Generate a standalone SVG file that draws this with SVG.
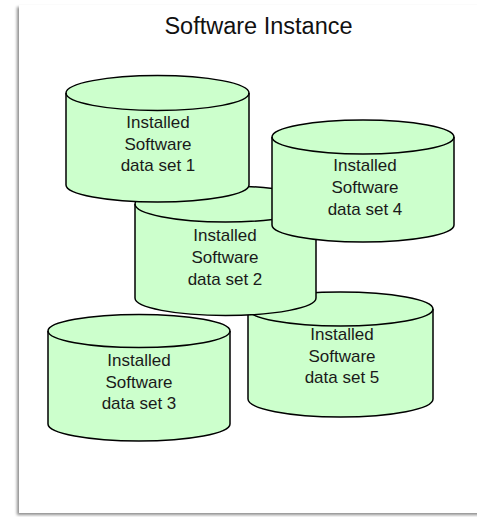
<svg xmlns="http://www.w3.org/2000/svg" width="477" height="517" viewBox="0 0 477 517">
<defs>
<filter id="sh" x="-5%" y="-5%" width="110%" height="110%">
<feGaussianBlur in="SourceAlpha" stdDeviation="1.8"/>
<feOffset dx="-2" dy="2" result="b"/>
<feComponentTransfer><feFuncA type="linear" slope="0.45"/></feComponentTransfer>
<feMerge><feMergeNode/><feMergeNode in="SourceGraphic"/></feMerge>
</filter>
</defs>
<style>
.body{fill:#CCFFCC;stroke:#000;stroke-width:1.5}
.rim{fill:none;stroke:#000;stroke-width:1.5}
.lbl{font-family:"Liberation Sans",Arial,sans-serif;font-size:17px;fill:#1a1a1a;text-anchor:middle}
.title{font-family:"Liberation Sans",Arial,sans-serif;font-size:23.5px;fill:#111;text-anchor:middle}
</style>
<rect width="477" height="517" fill="#fff"/>
<rect x="19" y="5" width="470" height="508" fill="#fff" filter="url(#sh)"/>
<g id="title"><text class="title" x="258.5" y="34">Software Instance</text></g>
<g id="ds3">
<path class="body" d="M48,331 A91,16.5 0 0 1 230,331 V424 A91,17 0 0 1 48,424 Z"/>
<path class="rim" d="M48,331 A91,16.5 0 0 0 230,331"/>
<text class="lbl" x="139" y="366">Installed</text>
<text class="lbl" x="139" y="388">Software</text>
<text class="lbl" x="139" y="409">data set 3</text>
</g>
<g id="ds5">
<path class="body" d="M248,309 A92.5,17 0 0 1 433,309 V399 A92.5,18 0 0 1 248,399 Z"/>
<path class="rim" d="M248,309 A92.5,17 0 0 0 433,309"/>
<text class="lbl" x="342" y="340">Installed</text>
<text class="lbl" x="342" y="362">Software</text>
<text class="lbl" x="342" y="383">data set 5</text>
</g>
<g id="ds2">
<path class="body" d="M135,204 A90.5,18 0 0 1 316,204 V298 A90.5,17.5 0 0 1 135,298 Z"/>
<path class="rim" d="M135,204 A90.5,18 0 0 0 316,204"/>
<text class="lbl" x="225" y="241">Installed</text>
<text class="lbl" x="225" y="263">Software</text>
<text class="lbl" x="225" y="285">data set 2</text>
</g>
<g id="ds1">
<path class="body" d="M66,93 A91.5,17.5 0 0 1 249,93 V185 A91.5,17 0 0 1 66,185 Z"/>
<path class="rim" d="M66,93 A91.5,17.5 0 0 0 249,93"/>
<text class="lbl" x="158" y="128">Installed</text>
<text class="lbl" x="158" y="150">Software</text>
<text class="lbl" x="158" y="171">data set 1</text>
</g>
<g id="ds4">
<path class="body" d="M272,137 A91,17 0 0 1 454,137 V225 A91,17 0 0 1 272,225 Z"/>
<path class="rim" d="M272,137 A91,17 0 0 0 454,137"/>
<text class="lbl" x="365" y="171">Installed</text>
<text class="lbl" x="365" y="193">Software</text>
<text class="lbl" x="365" y="215">data set 4</text>
</g>
<g id="connectors"></g>
</svg>
